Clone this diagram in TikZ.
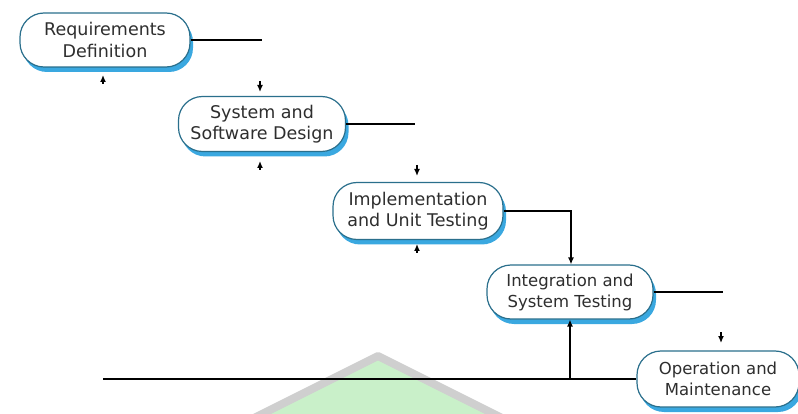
\documentclass[tikz,border=0pt]{standalone}
\usepackage{fontspec}
\setmainfont{DejaVu Sans}
\usetikzlibrary{shadows,arrows.meta}
\definecolor{boxborder}{HTML}{2A6F8C}
\definecolor{shadowblue}{HTML}{3AA8E0}
\definecolor{txt}{HTML}{2E2E2E}
\definecolor{wmgray}{HTML}{CFCFCF}
\definecolor{wmgreen}{HTML}{C9F0C9}
\tikzset{
  phase/.style={draw=boxborder, line width=1.2pt, fill=white, rounded corners=24pt,
    align=center, inner sep=0pt, text=txt,
    font=\fontsize{17.5}{21.5}\selectfont,
    drop shadow={shadow xshift=3pt, shadow yshift=-5pt, fill=shadowblue, opacity=1}},
  conn/.style={line width=1.3pt, black},
  arr/.style={conn, -{Latex[length=7pt,width=6pt]}},
}
\begin{document}
\begin{tikzpicture}[x=1pt,y=-1pt]
\useasboundingbox (0,0) rectangle (798,414);
% watermark
\begin{scope}
\clip (0,0) rectangle (798,414);
\draw[wmgray, line width=8pt, fill=wmgreen, line join=round] (378,356) -- (210,440) -- (546,440) -- cycle;
\end{scope}
% phases
\node[phase, minimum width=170pt, minimum height=54pt] (n1) at (105,40) {Requirements\\Definition};
\node[phase, minimum width=167pt, minimum height=55pt] (n2) at (262,124) {System and\\Software Design};
\node[phase, minimum width=170pt, minimum height=57pt] (n3) at (418,211) {Implementation\\and Unit Testing};
\node[phase, minimum width=166pt, minimum height=54pt, font=\fontsize{16.5}{21}\selectfont] (n4) at (570,292) {Integration and\\System Testing};
\begin{scope}
\clip (0,0) rectangle (798,414);
\node[phase, minimum width=162pt, minimum height=56pt, font=\fontsize{16.5}{21}\selectfont] (n5) at (718,379) {Operation and\\Maintenance};
\end{scope}
% coordinates
\coordinate (e1) at (262,41);
\coordinate (e2) at (415,124);
\coordinate (k3) at (571,211);
\coordinate (e4) at (723,293);
\coordinate (l0) at (103,379);
\coordinate (j4) at (570,379);
\coordinate (u1a) at (103,84); \coordinate (u1b) at (103,75);
\coordinate (d2a) at (260,81); \coordinate (d2b) at (260,92);
\coordinate (u2a) at (260,170); \coordinate (u2b) at (260,161);
\coordinate (d3a) at (417,165); \coordinate (d3b) at (417,176);
\coordinate (u3a) at (417,253); \coordinate (u3b) at (417,244);
\coordinate (d5a) at (721,332); \coordinate (d5b) at (721,343);
% connectors
\draw[conn] (n1.east) -- (n1.east -| e1);
\draw[conn] (n2.east) -- (n2.east -| e2);
\draw[arr] (n3.east) -- (n3.east -| k3) -- (k3 |- n4.north);
\draw[conn] (n4.east) -- (n4.east -| e4);
\draw[conn] (l0) -- (n5.west);
\draw[arr] (j4) -- (n4.south);
\draw[arr] (u1a) -- (u1b);
\draw[arr] (d2a) -- (d2b);
\draw[arr] (u2a) -- (u2b);
\draw[arr] (d3a) -- (d3b);
\draw[arr] (u3a) -- (u3b);
\draw[arr] (d5a) -- (d5b);
\end{tikzpicture}
\end{document}
